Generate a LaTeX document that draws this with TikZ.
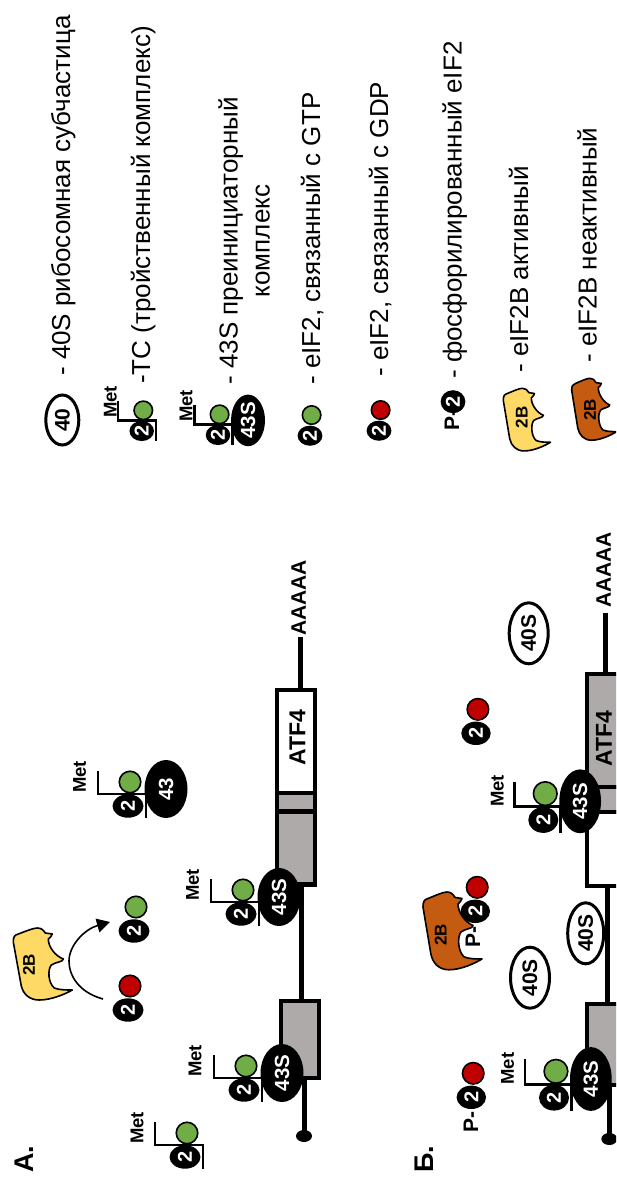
\documentclass[tikz,border=0pt]{standalone}
\usepackage{fontspec}
\setmainfont{Liberation Sans}
\usetikzlibrary{shapes.geometric,arrows.meta}
\definecolor{gtpgreen}{RGB}{112,173,71}
\definecolor{gdpred}{RGB}{192,0,0}
\definecolor{activeyellow}{RGB}{255,217,102}
\definecolor{inactiveorange}{RGB}{197,90,17}
\definecolor{exongray}{RGB}{174,170,170}
\newcommand{\fsize}[1]{\fontsize{#1}{#1}\selectfont}
\begin{document}
\begin{tikzpicture}[x=1pt,y=-1pt,
	factor/.style 2 args={
		ellipse,
		fill=black,
		text=white,
		inner sep=0,
		rotate=90,
		font=\fsize{20}\bfseries,
		minimum width=#1,
		minimum height=#2},
	ball/.style 2 args={
		ellipse,
		draw=black,
		line width=1.6pt,
		fill=#1,
		inner sep=0,
		minimum size=#2},
	small/.style={
		ellipse,
		draw=black,
		line width=3pt,
		fill=white,
		inner sep=0,
		rotate=90,
		font=\fsize{21}\bfseries},
	exon/.style n args={3}{
		rectangle,
		draw=black,
		line width=4.5pt,
		fill=#1,
		minimum width=#2,
		minimum height=#3},
	trna/.style={line width=2.8pt},
	rna/.style={line width=5pt},
	caption/.style={rotate=90, anchor=base west, inner sep=0, font=\fsize{26}},
	tag/.style={rotate=90, inner sep=0, font=\fsize{18.5}\bfseries},
	heavy/.style={rotate=90, inner sep=0, font=\fsize{21}\bfseries},
	enzyme/.style={draw=black, line width=1.6pt, line join=round}]
	\clip (0,0) rectangle (616,1177);
	% draw mRNA regions in both panels
	\foreach \nm/\ex/\ey/\ew/\eh/\col in {
		eOneA/300/1039.5/37.6/76.6/exongray, eTwoA/296/848/37.6/73/exongray,
		uA/296/802/37.6/18/exongray, atfBoxA/296/741.5/37.6/103/white,
		eOneB/618.5/1044.5/63/81/exongray, eTwoB/618.5/849/63/74/white,
		uB/618.5/799.5/63/24.7/exongray, atfBoxB/618.5/730.5/63/113/exongray}
	\node[exon={\col}{\ew}{\eh}] (\nm) at (\ex,\ey) {};
	% draw caps and backbone between the regions
	\node[ellipse, fill=black, inner sep=0, minimum width=16, minimum height=12] (capA) at (304,1136) {};
	\node[ellipse, fill=black, inner sep=0, minimum width=16, minimum height=12] (capB) at (609.3,1139) {};
	\coordinate (midA) at (301.7,940);
	\coordinate (midB) at (607.3,945);
	\coordinate (tailA) at (300,636.7);
	\coordinate (tailB) at (605.7,612.7);
	\draw[rna] (capA.center) -- (capA.center |- eOneA.south);
	\draw[rna] (capB.center) -- (capB.center |- eOneB.south);
	\draw[rna] (midA |- eOneA.north) -- (midA |- eTwoA.south);
	\draw[rna] (midB |- eOneB.north) -- (midB |- eTwoB.south);
	\draw[rna] (tailA) -- (tailA |- atfBoxA.north);
	\draw[rna] (tailB) -- (tailB |- atfBoxB.north);
	\node[heavy, font=\fsize{23}\bfseries] (atfA) at (297.5,737.5) {ATF4};
	\node[heavy, font=\fsize{23}\bfseries] (atfB) at (604,738.3) {ATF4};
	\node[heavy] (polyA) at (298.7,598) {AAAAA};
	\node[heavy] (polyB) at (603.7,570) {AAAAA};
	% draw free 40S subunits
	\foreach \nm/\ox/\oy/\ow in {fortyA/530/977.7/39, fortyB/585.7/933.3/36, fortyC/528.7/633.3/39}
	\node[small, minimum width=61, minimum height=\ow] (\nm) at (\ox,\oy) {40S};
	% draw eIF2B, both states
	\foreach \nm/\bx/\by/\sx/\sy/\col/\tx/\ty in {
		gefA/13.3/928/1/1/activeyellow/29/965,
		gefB/423/892/1/1.08/inactiveorange/440.7/935,
		gefK/503.3/388.3/.8/.87/activeyellow/521.7/417.3,
		gefL/571.7/378.3/.76/.86/inactiveorange/590/410} {
		\draw[enzyme, fill=\col, shift={(\bx,\by)}, xscale=\sx, yscale=\sy]
			(0,14) .. controls (0,9) and (1,7) .. (5,6)
			.. controls (13,3) and (20,0) .. (24,0)
			.. controls (28,0) and (30,2) .. (32,5)
			.. controls (34,6) and (37,5) .. (39,6)
			.. controls (39,9) and (36,9) .. (35,11)
			.. controls (35,19) and (42,28) .. (50,31)
			.. controls (50,34) and (42,34) .. (38,37)
			.. controls (34,42) and (35,55) .. (41,60)
			.. controls (46,62) and (53,62) .. (59,62)
			.. controls (52,66) and (38,72) .. (26,72)
			.. controls (16,72) and (10,66) .. (8,58)
			-- cycle;
		\node[rotate=90, inner sep=0, font=\fsize{17}\bfseries] (\nm) at (\tx,\ty) {2B};
	}
	% draw eIF2 bound to a nucleotide
	\foreach \nm/\cx/\cy/\sx/\sy/\col in {
		redA/128/1010/1/1/gdpred, greenA/134/931/1/1/gtpgreen,
		phosA/471.3/1097.3/.95/1/gdpred, phosB/475.3/911.3/.95/1/gdpred,
		redB/476/733.3/.95/1/gdpred,
		greenK/310/435.7/.8/.86/gtpgreen, redK/379/430.7/.8/.86/gdpred} {
		\node[factor={23.4*\sy}{31*\sx}] (two\nm) at (\cx,\cy) {2};
		\node[ball={\col}{21.5*\sy}] (nt\nm) at (\cx+2*\sx,\cy-24*\sy) {};
	}
	\node[heavy] (pA) at (471,1122) {P-};
	\node[heavy] (pB) at (473,937) {P-};
	% draw ternary complexes
	\foreach \nm/\cx/\cy/\sx/\sy/\mx in {
		tcA/185/1157/1/1/-48, preA/244/1090/1/1/-49,
		preB/241/914/1/1/-48.5, preC/128/806/1/1/-48.5,
		preD/554/1097.7/.97/1.1/-46.5, preE/543.3/820/.97/1.1/-46,
		tcK/141.7/431/.79/.86/-31.4, preK/218/435/.79/.86/-32} {
		\draw[trna] (\cx-30*\sx,\cy-35*\sy) -- (\cx-30*\sx,\cy-12*\sy) -- (\cx+18*\sx,\cy-12*\sy) -- (\cx+18*\sx,\cy+12*\sy);
		\node[factor={23.4*\sy}{31*\sx}] (two\nm) at (\cx,\cy) {2};
		\node[ball={gtpgreen}{21.5*\sy}] (nt\nm) at (\cx+2*\sx,\cy-24*\sy) {};
		\node[tag] (met\nm) at (\cx+\mx,\cy-29) {Met};
	}
	% draw 43S on top of the ternary complexes
	\foreach \nm/\cx/\cy/\sx/\sy/\lab in {
		preA/244/1090/1/1/43S, preB/241/914/1/1/43S, preC/128/806/1/1/43,
		preD/554/1097.7/.97/1.1/43S, preE/543.3/820/.97/1.1/43S, preK/218/435/.79/.86/43S}
	\node[factor={58*\sy}{43*\sx}, font=\fsize{20.5}\bfseries] (sub\nm) at (\cx+38*\sx,\cy-17*\sy) {\lab};
	% draw exchange arrow
	\coordinate (swapin) at (103,999);
	\coordinate (swapout) at (110,922);
	\draw[line width=1.6pt, -{Triangle[length=13pt,width=14pt]}] (swapin)
		.. controls (78,992) and (69,975) .. (69,961)
		.. controls (69,945) and (85,929) .. (swapout);
	% panel letters
	\node[rotate=90, anchor=base west, inner sep=0, font=\fsize{27}\bfseries] (panelA) at (33,1173) {А.};
	\node[rotate=90, anchor=base west, inner sep=0, font=\fsize{27}\bfseries] (panelB) at (433,1173) {Б.};
	% draw legend
	\node[small, minimum width=50, minimum height=33] (keyforty) at (62.3,420) {40};
	\node[factor={23}{24.7}] (twoP) at (453,401.7) {2};
	\node[heavy] (keyP) at (452,420) {P-};
	\node[caption] (capforty) at (70,376) {- 40S рибосомная субчастица};
	\node[caption] (captc) at (150,384) {-TC (тройственный комплекс)};
	\node[caption, anchor=center, align=center] (cappre) at (244,241) {- 43S преинициаторный\\[6pt]комплекс};
	\node[caption] (capgtp) at (320,385) {- eIF2, связанный с GTP};
	\node[caption] (capgdp) at (388,377) {- eIF2, связанный с GDP};
	\node[caption] (capphos) at (461.7,379) {- фосфорилированный eIF2};
	\node[caption] (capact) at (528,373) {- eIF2B активный};
	\node[caption] (capina) at (596.7,363) {- eIF2B неактивный};
\end{tikzpicture}
\end{document}
